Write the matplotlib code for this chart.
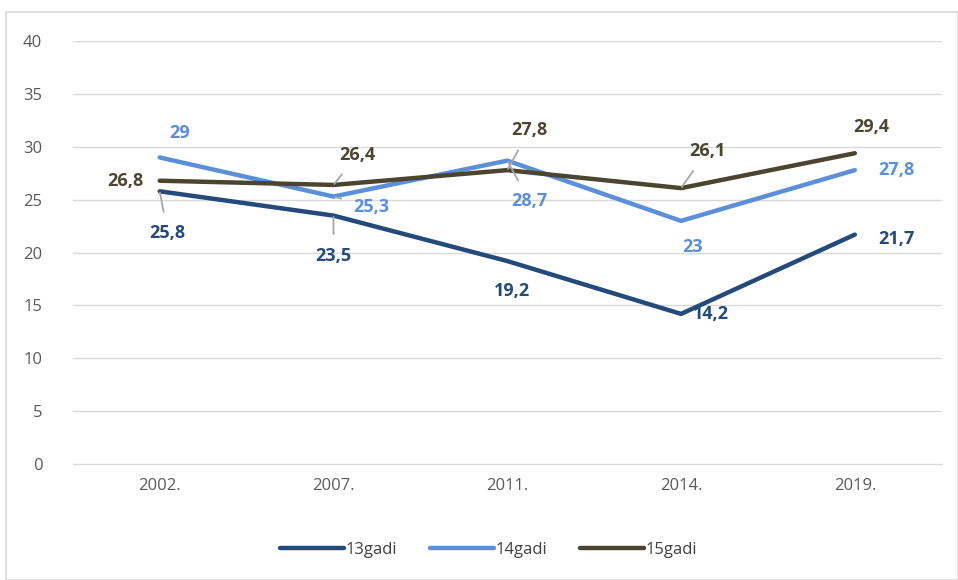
import matplotlib.pyplot as plt
from matplotlib.patches import Rectangle

plt.rcParams['font.family'] = ['Open Sans', 'DejaVu Sans']

years = ['2002.', '2007.', '2011.', '2014.', '2019.']
gadi13 = [25.8, 23.5, 19.2, 14.2, 21.7]
gadi14 = [29, 25.3, 28.7, 23, 27.8]
gadi15 = [26.8, 26.4, 27.8, 26.1, 29.4]
names = ['13gadi', '14gadi', '15gadi']
colors = ['#244A7C', '#5B8FD9', '#4B4530']

# label offsets in pixels (dx, dy) and whether a leader line is drawn
offs13 = [(8, -42, True), (0, -40, True), (5, -30, False), (30, 0, False), (42, -4, False)]
offs14 = [(20, 24, False), (38, -10, True), (22, -40, True), (12, -26, False), (42, 0, False)]
offs15 = [(-34, 0, False), (24, 30, True), (22, 40, True), (26, 37, True), (16, 26, False)]

fig = plt.figure(figsize=(9.58, 5.8), dpi=100)
ax = fig.add_axes([0.076, 0.2, 0.907, 0.729])
x = list(range(len(years)))

for vals, offs, name, c in [(gadi13, offs13, names[0], colors[0]),
                            (gadi14, offs14, names[1], colors[1]),
                            (gadi15, offs15, names[2], colors[2])]:
    ax.plot(x, vals, color=c, lw=3.2, label=name, solid_capstyle='round', zorder=3)
    for xi, v, (dx, dy, lead) in zip(x, vals, offs):
        txt = ('%g' % v).replace('.', ',')
        ap = None
        if lead:
            ap = dict(arrowstyle='-', color='#A6A6A6', lw=1.3, shrinkA=7, shrinkB=1)
        ax.annotate(txt, (xi, v), xytext=(dx, dy), textcoords='offset pixels',
                    ha='center', va='center', fontsize=13, fontweight='bold',
                    color=c, arrowprops=ap, zorder=4)

ax.set_xlim(-0.5, len(years) - 0.5)
ax.set_ylim(0, 40)
ax.set_yticks(range(0, 41, 5))
ax.set_xticks(x)
ax.set_xticklabels(years)
ax.grid(axis='y', color='#D9D9D9', lw=1)
ax.set_axisbelow(True)
for s in ['top', 'right', 'left']:
    ax.spines[s].set_visible(False)
ax.spines['bottom'].set_color('#D9D9D9')
ax.tick_params(length=0, labelsize=12, colors='#595959', pad=10)
ax.tick_params(axis='y', pad=22)

fig.legend(loc='lower center', bbox_to_anchor=(0.51, 0.012), ncol=3, frameon=False,
           fontsize=12, handlelength=3.8, handletextpad=0.1, columnspacing=2.0,
           labelcolor='#404040')

fig.patches.append(Rectangle((0.006, 0.0), 0.994, 0.98, transform=fig.transFigure,
                             fill=False, edgecolor='#D9D9D9', lw=1.2))

fig.savefig('out.png', dpi=100)
